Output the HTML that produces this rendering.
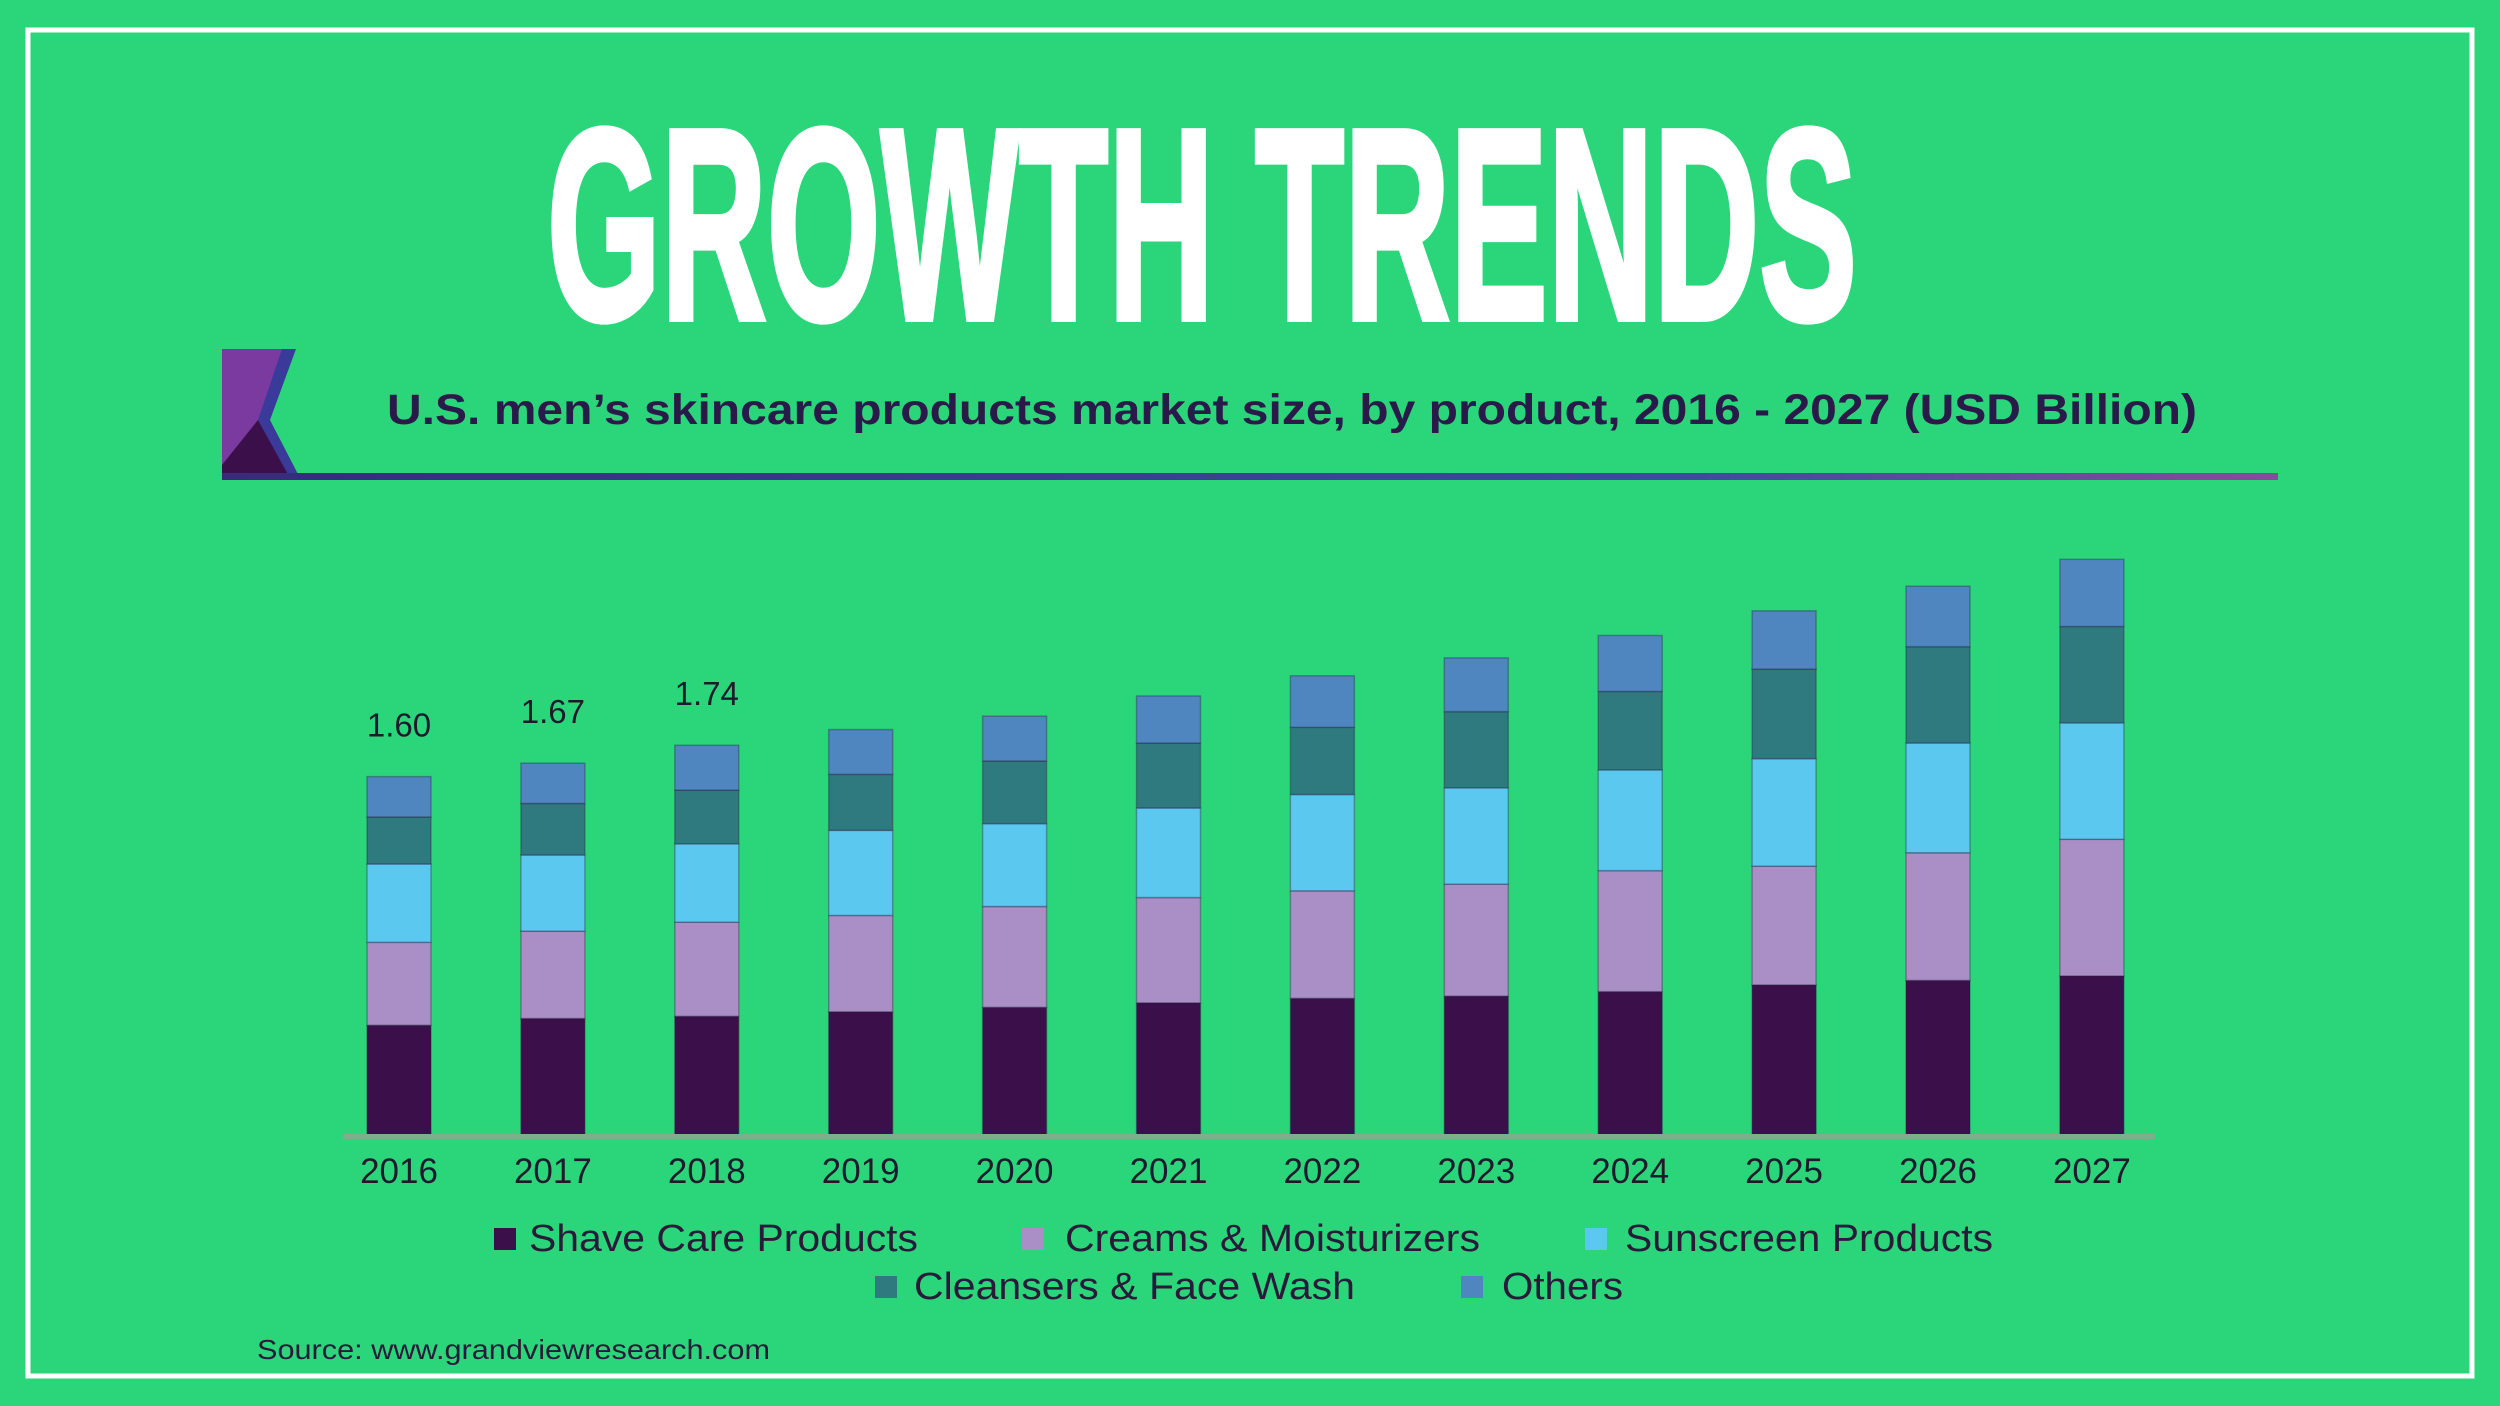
<!DOCTYPE html>
<html><head><meta charset="utf-8">
<style>
html,body{margin:0;padding:0;background:#2bd67b;}
svg{display:block;}
text{font-family:"Liberation Sans",sans-serif;}
</style></head>
<body>
<svg id="chart" width="2500" height="1406" viewBox="0 0 2500 1406">
  <rect x="0" y="0" width="2500" height="1406" fill="#2bd67b"/>
  <rect x="28" y="30" width="2444" height="1346" fill="none" stroke="#ffffff" stroke-width="5"/>
  <text x="547" y="319" font-size="273" font-weight="bold" fill="#ffffff" stroke="#ffffff" stroke-width="6" textLength="1310" lengthAdjust="spacingAndGlyphs">GROWTH TRENDS</text>
  <defs>
    <linearGradient id="lg" x1="0" x2="1" y1="0" y2="0">
      <stop offset="0" stop-color="#3a2a7a"/><stop offset="0.7" stop-color="#3f4a9a"/><stop offset="1" stop-color="#8a4a9a"/>
    </linearGradient>
  </defs>
  <g>
    <rect x="222" y="349" width="84" height="129" fill="#7a3aa0"/>
    <polygon points="290,349 306,349 306,478 300,478 262,420" fill="#2bd67b"/>
    <polygon points="282,349 296,349 270,420 300,478 290,478 258,420" fill="#3a3a9a"/>
    <polygon points="222,478 290,478 258,420 222,465" fill="#3a0f4a"/>
  </g>
  <rect x="222" y="473" width="2056" height="7" fill="url(#lg)"/>
  <text x="387" y="424" font-size="43" font-weight="bold" fill="#2a1a4a" textLength="1810" lengthAdjust="spacingAndGlyphs">U.S. men’s skincare products market size, by product, 2016 - 2027 (USD Billion)</text>
  <g id="bars"></g>
  <rect x="343" y="1134" width="1812" height="5" fill="#7fae8e"/>
  <g id="xlabels"></g>
  <g id="vlabels"></g>
  <g>
    <g><rect x="494" y="1228" width="22" height="22" fill="#3a0f4a"/><text x="529" y="1251" font-size="38" fill="#2a1a3a" textLength="389" lengthAdjust="spacingAndGlyphs">Shave Care Products</text></g>
    <g><rect x="1022" y="1228" width="22" height="22" fill="#a98fc6"/><text x="1065" y="1251" font-size="38" fill="#2a1a3a" textLength="415" lengthAdjust="spacingAndGlyphs">Creams &amp; Moisturizers</text></g>
    <g><rect x="1585" y="1228" width="22" height="22" fill="#5bc8f0"/><text x="1625" y="1251" font-size="38" fill="#2a1a3a" textLength="368" lengthAdjust="spacingAndGlyphs">Sunscreen Products</text></g>
    <g><rect x="875" y="1276" width="22" height="22" fill="#2e7a7e"/><text x="914" y="1299" font-size="38" fill="#2a1a3a" textLength="441" lengthAdjust="spacingAndGlyphs">Cleansers &amp; Face Wash</text></g>
    <g><rect x="1461" y="1276" width="22" height="22" fill="#4f86c0"/><text x="1502" y="1299" font-size="38" fill="#2a1a3a" textLength="121" lengthAdjust="spacingAndGlyphs">Others</text></g>
  </g>
  <text x="257" y="1359" font-size="28" fill="#2a1a3a" textLength="513" lengthAdjust="spacingAndGlyphs">Source: www.grandviewresearch.com</text>
</svg>
<script>
const years = ["2016","2017","2018","2019","2020","2021","2022","2023","2024","2025","2026","2027"];
const shaveCare = [0.49,0.52,0.53,0.55,0.57,0.59,0.61,0.62,0.64,0.67,0.69,0.71];
const creams = [0.37,0.39,0.42,0.43,0.45,0.47,0.48,0.50,0.54,0.53,0.57,0.61];
const sunscreen = [0.35,0.34,0.35,0.38,0.37,0.40,0.43,0.43,0.45,0.48,0.49,0.52];
const cleansers = [0.21,0.23,0.24,0.25,0.28,0.29,0.30,0.34,0.35,0.40,0.43,0.43];
const others = [0.18,0.18,0.20,0.20,0.20,0.21,0.23,0.24,0.25,0.26,0.27,0.30];
const totalLabels = ["1.60","1.67","1.74"];
const series = [
  {name:"shave-care", vals:shaveCare, color:"#3a0f4a"},
  {name:"creams", vals:creams, color:"#a98fc6"},
  {name:"sunscreen", vals:sunscreen, color:"#5bc8f0"},
  {name:"cleansers", vals:cleansers, color:"#2e7a7e"},
  {name:"others", vals:others, color:"#4f86c0"}
];
const NS = "http://www.w3.org/2000/svg";
const baseY = 1135, pxPerUnit = 224, x0 = 399, step = 153.9, barW = 64;
function xScale(i){ return x0 + step*i; }
function yScale(v){ return baseY - v*pxPerUnit; }
const gBars = document.getElementById('bars');
const gX = document.getElementById('xlabels');
const gV = document.getElementById('vlabels');
years.forEach((yr,i)=>{
  let cum = 0;
  series.forEach(s=>{
    const v = s.vals[i];
    const r = document.createElementNS(NS,'rect');
    r.setAttribute('x', xScale(i)-barW/2);
    r.setAttribute('y', yScale(cum+v));
    r.setAttribute('width', barW);
    r.setAttribute('height', v*pxPerUnit);
    r.setAttribute('fill', s.color);
    r.setAttribute('stroke', 'rgba(40,30,60,0.35)');
    r.setAttribute('stroke-width', '1.5');
    
    
    gBars.appendChild(r);
    cum += v;
  });
  const t = document.createElementNS(NS,'text');
  t.setAttribute('x', xScale(i));
  t.setAttribute('y', 1183);
  t.setAttribute('font-size', '35');
  t.setAttribute('text-anchor', 'middle');
  t.setAttribute('fill', '#1e1a2e');
  t.textContent = yr;
  
  
  gX.appendChild(t);
  if (i < totalLabels.length) {
    const vl = document.createElementNS(NS,'text');
    vl.setAttribute('x', xScale(i));
    vl.setAttribute('y', yScale(cum) - 40);
    vl.setAttribute('font-size', '33');
    vl.setAttribute('text-anchor', 'middle');
    vl.setAttribute('fill', '#1e1a2e');
    vl.textContent = totalLabels[i];
    
    
    gV.appendChild(vl);
  }
});
</script>
</body></html>
